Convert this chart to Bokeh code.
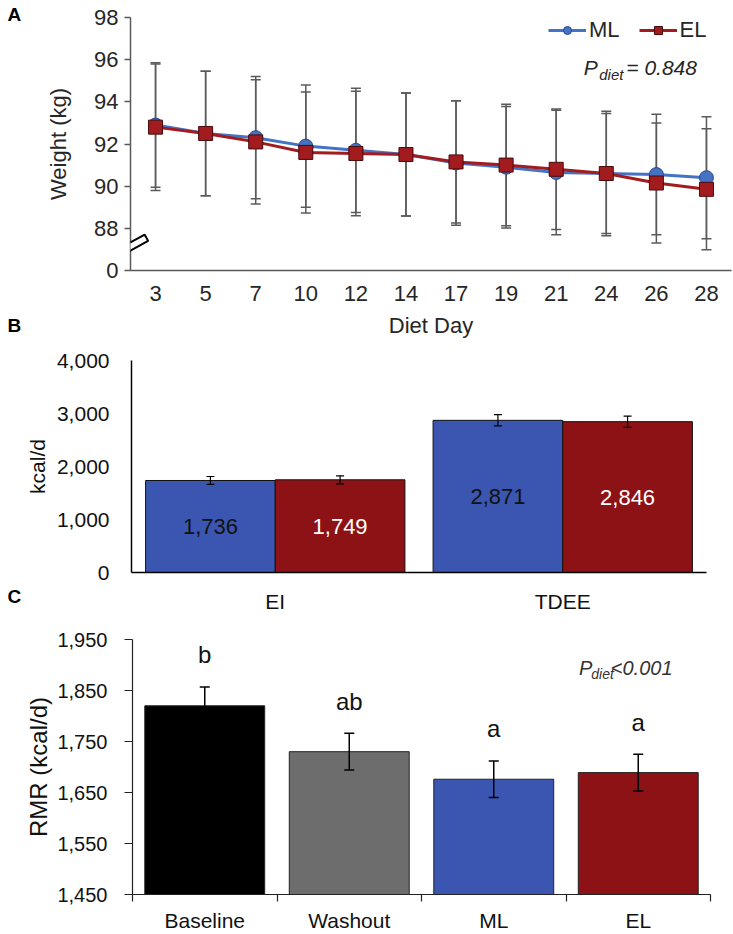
from bokeh.plotting import figure
from bokeh.layouts import column, row
from bokeh.models import (FactorRange, Range1d, FixedTicker, Whisker, TeeHead, ColumnDataSource,
                          Legend, LegendItem, Label, NumeralTickFormatter)
from bokeh.transform import dodge
from bokeh.core.properties import value
from bokeh.embed import file_html
from bokeh.resources import INLINE

FONT = "Liberation Sans"
TXT = "#262626"

# ---------------- data ----------------
# Panel A: body weight by diet day
days = ["3", "5", "7", "10", "12", "14", "17", "19", "21", "24", "26", "28"]
ml_weight = [92.9, 92.5, 92.3, 91.9, 91.7, 91.5, 91.1, 90.9, 90.65, 90.6, 90.55, 90.4]
el_weight = [92.8, 92.5, 92.1, 91.6, 91.55, 91.5, 91.15, 91.0, 90.8, 90.6, 90.15, 89.85]
ml_sd = [2.95, 2.95, 2.9, 2.9, 2.95, 2.92, 2.95, 2.88, 2.95, 2.85, 2.86, 2.89]
el_sd = [3.0, 2.95, 2.95, 2.87, 2.95, 2.92, 2.9, 2.88, 2.86, 2.95, 2.85, 2.87]
weight_ticks = [86, 88, 90, 92, 94, 96, 98]
weight_tick_overrides = {86: "0"}
series_names = ["ML", "EL"]
p_diet_a = "= 0.848"

# Panel B: energy intake / expenditure
energy_cats = ["EI", "TDEE"]
ml_energy = [1736, 2871]
el_energy = [1749, 2846]
ml_energy_err = [75, 106]
el_energy_err = [75, 106]
energy_ticks = [0, 1000, 2000, 3000, 4000]

# Panel C: RMR
rmr_cats = ["Baseline", "Washout", "ML", "EL"]
rmr_vals = [1820, 1730, 1676, 1689]
rmr_err = [37, 36, 36, 36]
rmr_letters = ["b", "ab", "a", "a"]
rmr_ticks = [1450, 1550, 1650, 1750, 1850, 1950]
p_diet_c = "<0.001"

panel_letters = ["A", "B", "C"]

BLUE_LINE = "#4472C4"
RED_LINE = "#A21C1F"
BLUE_BAR = "#3A56B0"
RED_BAR = "#8C1216"
rmr_colors = ["#000000", "#6D6D6D", BLUE_BAR, RED_BAR]

PAGE_W, PAGE_H = 733, 934
H_A, H_B = 344, 271
H_C = PAGE_H - H_A - H_B
STRIP_W = 22
MAIN_W = PAGE_W - STRIP_W
LEFT = 130 - STRIP_W


def style_common(p):
    p.grid.visible = False
    p.outline_line_color = None
    p.background_fill_color = "white"
    p.border_fill_color = "white"


# ---------------- panel letters strip ----------------
strip = figure(width=STRIP_W, height=PAGE_H, x_range=Range1d(0, STRIP_W), y_range=Range1d(PAGE_H, 0),
               output_backend="svg", toolbar_location=None, min_border=0, frame_align=False,
               x_axis_location=None, y_axis_location=None)
style_common(strip)
strip.text(x=[7, 7, 7], y=[14, 325, 596], text=panel_letters, text_font=value(FONT), text_font_size="19px",
           text_font_style="bold", text_color="black", text_align="left", text_baseline="middle")

# ---------------- Panel A ----------------
pA = figure(width=MAIN_W, height=H_A, x_range=FactorRange(*days, range_padding=0),
            y_range=Range1d(86, 98), output_backend="svg", toolbar_location=None, frame_align=False,
            min_border_left=LEFT, min_border_right=2, min_border_top=17, min_border_bottom=H_A - 270)
style_common(pA)

srcs = []
for vals, sds in ((ml_weight, ml_sd), (el_weight, el_sd)):
    srcs.append(ColumnDataSource(dict(day=days, w=vals,
                                      up=[v + s for v, s in zip(vals, sds)],
                                      lo=[v - s for v, s in zip(vals, sds)])))

for s in srcs:
    wk = Whisker(source=s, base="day", upper="up", lower="lo", line_color="#5a5a5a", line_width=1.5,
                 level="underlay",
                 upper_head=TeeHead(size=10, line_color="#5a5a5a", line_width=1.5),
                 lower_head=TeeHead(size=10, line_color="#5a5a5a", line_width=1.5))
    pA.add_layout(wk)

l_ml = pA.line("day", "w", source=srcs[0], line_color=BLUE_LINE, line_width=3)
s_ml = pA.scatter("day", "w", source=srcs[0], marker="circle", size=14, fill_color=BLUE_LINE,
                  line_color="#2B4A8A", line_width=1)
l_el = pA.line("day", "w", source=srcs[1], line_color=RED_LINE, line_width=3)
s_el = pA.scatter("day", "w", source=srcs[1], marker="square", size=14, fill_color=RED_LINE,
                  line_color="#4A0A0C", line_width=1)

leg = Legend(items=[LegendItem(label=series_names[0], renderers=[l_ml, s_ml]),
                    LegendItem(label=series_names[1], renderers=[l_el, s_el])],
             orientation="horizontal", location=(418, 227), glyph_width=38, glyph_height=20,
             label_standoff=3, spacing=19, padding=0, margin=0, border_line_color=None,
             background_fill_alpha=0, label_text_font_size="22px", label_text_font=FONT,
             label_text_color=TXT, label_height=20)
pA.add_layout(leg)

yA = pA.yaxis[0]
yA.ticker = FixedTicker(ticks=weight_ticks)
yA.major_label_overrides = weight_tick_overrides
yA.axis_label = "Weight (kg)"
xA = pA.xaxis[0]
xA.axis_label = "Diet Day"
for ax in (xA, yA):
    ax.axis_line_color = "#595959"
    ax.axis_line_width = 1.5
    ax.major_tick_line_color = "#595959"
    ax.major_tick_line_width = 1.5
    ax.major_tick_in = 0
    ax.minor_tick_line_color = None
    ax.major_label_text_font = FONT
    ax.major_label_text_font_size = "22px"
    ax.major_label_text_color = TXT
    ax.axis_label_text_font = FONT
    ax.axis_label_text_font_size = "22px"
    ax.axis_label_text_font_style = "normal"
    ax.axis_label_text_color = TXT
yA.major_tick_out = 6
yA.major_label_standoff = 6
yA.axis_label_standoff = 20
xA.major_tick_out = 0
xA.major_label_standoff = 15
xA.axis_label_standoff = 9

# axis break mark
pA.add_layout(Label(x=0, y=87.14, text=" ", text_font_size="1px", angle=0.5, text_align="center",
                    text_baseline="middle", background_fill_color="white", border_line_color="black",
                    border_line_width=2, padding=(18, 3)))

# P value
pA.add_layout(Label(x=9.05, y=95.63, text="P", text_font=FONT, text_font_size="21px",
                    text_font_style="italic", text_color=TXT, text_baseline="middle"))
pA.add_layout(Label(x=9.36, y=95.30, text="diet", text_font=FONT, text_font_size="15px",
                    text_font_style="italic", text_color=TXT, text_baseline="middle"))
pA.add_layout(Label(x=9.9, y=95.63, text=p_diet_a, text_font=FONT, text_font_size="21px",
                    text_font_style="italic", text_color=TXT, text_baseline="middle"))

# ---------------- Panel B ----------------
pB = figure(width=MAIN_W, height=H_B, x_range=FactorRange(*energy_cats, range_padding=0),
            y_range=Range1d(0, 4000), output_backend="svg", toolbar_location=None, frame_align=False,
            min_border_left=LEFT, min_border_right=27, min_border_top=360 - H_A,
            min_border_bottom=H_A + H_B - 573)
style_common(pB)
BW = 0.451
for vals, errs, off, col, tcol in ((ml_energy, ml_energy_err, -BW / 2, BLUE_BAR, "#111111"),
                                   (el_energy, el_energy_err, BW / 2, RED_BAR, "white")):
    src = ColumnDataSource(dict(cat=energy_cats, v=vals,
                                up=[v + e for v, e in zip(vals, errs)],
                                lo=[v - e for v, e in zip(vals, errs)],
                                mid=[v / 2 for v in vals],
                                lab=[f"{v:,}" for v in vals]))
    xs = dodge("cat", off, range=pB.x_range)
    pB.vbar(x=xs, top="v", width=BW, source=src, fill_color=col, line_color="#111111", line_width=1)
    pB.add_layout(Whisker(source=src, base=xs, upper="up", lower="lo", line_color="black", line_width=1.2,
                          level="annotation",
                          upper_head=TeeHead(size=8, line_color="black", line_width=1.2),
                          lower_head=TeeHead(size=8, line_color="black", line_width=1.2)))
    pB.text(x=xs, y="mid", text="lab", source=src, text_font=value(FONT), text_font_size="22px",
            text_color=tcol, text_align="center", text_baseline="middle")

yB = pB.yaxis[0]
yB.ticker = FixedTicker(ticks=energy_ticks)
yB.formatter = NumeralTickFormatter(format="0,0")
yB.axis_label = "kcal/d"
xB = pB.xaxis[0]
for ax in (xB, yB):
    ax.axis_line_color = "black"
    ax.axis_line_width = 1.5
    ax.major_tick_out = 0
    ax.major_tick_in = 0
    ax.minor_tick_line_color = None
    ax.major_label_text_font = FONT
    ax.major_label_text_font_size = "21px"
    ax.major_label_text_color = "#111111"
    ax.axis_label_text_font = FONT
    ax.axis_label_text_font_size = "21px"
    ax.axis_label_text_font_style = "normal"
    ax.axis_label_text_color = "#111111"
yB.major_label_standoff = 22
yB.axis_label_standoff = 5
xB.major_label_standoff = 17

# ---------------- Panel C ----------------
pC = figure(width=MAIN_W, height=H_C, x_range=Range1d(0, len(rmr_cats)), y_range=Range1d(1450, 1950),
            output_backend="svg", toolbar_location=None, frame_align=False,
            min_border_left=LEFT, min_border_right=23, min_border_top=639 - H_A - H_B,
            min_border_bottom=PAGE_H - 895)
style_common(pC)
xc = [i + 0.5 for i in range(len(rmr_cats))]
srcC = ColumnDataSource(dict(x=xc, v=rmr_vals, col=rmr_colors, let=rmr_letters,
                             up=[v + e for v, e in zip(rmr_vals, rmr_err)],
                             lo=[v - e for v, e in zip(rmr_vals, rmr_err)]))
pC.vbar(x="x", top="v", bottom=1450, width=0.83, source=srcC, fill_color="col", line_color="#222222",
        line_width=1)
pC.add_layout(Whisker(source=srcC, base="x", upper="up", lower="lo", line_color="black", line_width=1.5,
                      level="annotation",
                      upper_head=TeeHead(size=10, line_color="black", line_width=1.5),
                      lower_head=TeeHead(size=10, line_color="black", line_width=1.5)))
pC.text(x="x", y="up", text="let", source=srcC, y_offset=-32, text_font=value(FONT),
        text_font_size="24px", text_color="#111111", text_align="center", text_baseline="middle")

yC = pC.yaxis[0]
yC.ticker = FixedTicker(ticks=rmr_ticks)
yC.formatter = NumeralTickFormatter(format="0,0")
yC.axis_label = "RMR (kcal/d)"
xC = pC.xaxis[0]
xC.ticker = FixedTicker(ticks=xc, minor_ticks=list(range(len(rmr_cats) + 1)))
xC.major_label_overrides = {x: c for x, c in zip(xc, rmr_cats)}
for ax in (xC, yC):
    ax.axis_line_color = "#222222"
    ax.axis_line_width = 1.2
    ax.major_tick_line_color = "#222222"
    ax.major_tick_line_width = 1.2
    ax.major_tick_in = 0
    ax.major_label_text_font = FONT
    ax.major_label_text_font_size = "21px"
    ax.major_label_text_color = "#111111"
    ax.axis_label_text_font = FONT
    ax.axis_label_text_font_size = "24px"
    ax.axis_label_text_font_style = "normal"
    ax.axis_label_text_color = "#111111"
yC.major_label_text_font_size = "20px"
yC.major_tick_out = 8
yC.minor_tick_line_color = None
yC.major_label_standoff = 17
yC.axis_label_standoff = 2
xC.major_tick_out = 0
xC.minor_tick_out = 7
xC.minor_tick_in = 0
xC.minor_tick_line_color = "#222222"
xC.minor_tick_line_width = 1.2
xC.major_label_standoff = 7
xC.axis_label_standoff = 0

pC.add_layout(Label(x=3.09, y=1895, text="P", text_font=FONT, text_font_size="20px",
                    text_font_style="italic", text_color="#333333", text_baseline="middle"))
pC.add_layout(Label(x=3.175, y=1883, text="diet", text_font=FONT, text_font_size="14px",
                    text_font_style="italic", text_color="#333333", text_baseline="middle"))
pC.add_layout(Label(x=3.31, y=1895, text=p_diet_c, text_font=FONT, text_font_size="20px",
                    text_font_style="italic", text_color="#333333", text_baseline="middle"))

page = row(strip, column(pA, pB, pC, spacing=0), spacing=0)
open("out.html", "w").write(file_html(page, INLINE))
